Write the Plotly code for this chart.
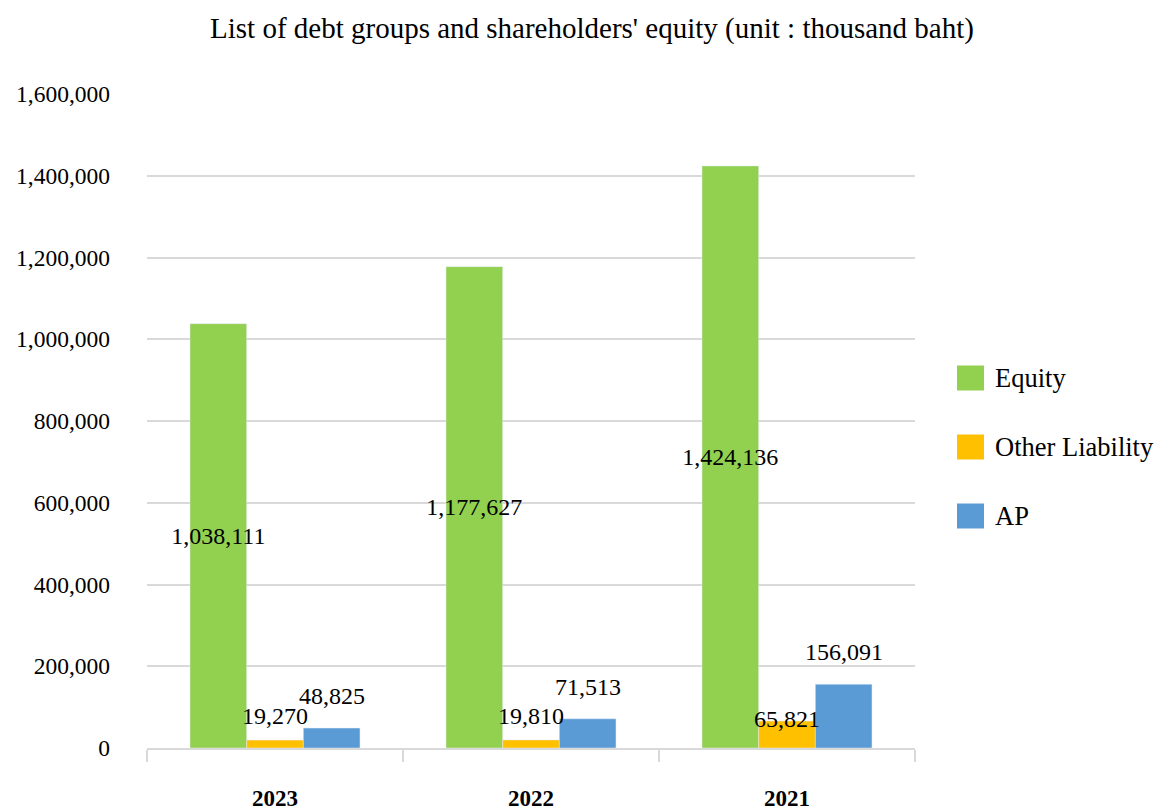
import plotly.graph_objects as go

years = ["2023", "2022", "2021"]
equity = [1038111, 1177627, 1424136]
other_liability = [19270, 19810, 65821]
ap = [48825, 71513, 156091]
y_ticks = [0, 200000, 400000, 600000, 800000, 1000000, 1200000, 1400000, 1600000]
series_names = ["Equity", "Other Liability", "AP"]

FONT = "Liberation Serif"
GREEN, ORANGE, BLUE = "#92D050", "#FFC000", "#5B9BD5"
COLORS = [GREEN, ORANGE, BLUE]

# page offset (browser body margin) compensation
OFF = 8
W, H = 1154, 802
PL, PR, PT, PB = 147, 915, 94, 748   # desired plot area in screen pixels

fig = go.Figure()
fig.add_trace(go.Bar(
    name=series_names[0], x=years, y=equity, marker_color=GREEN,
    text=[f"{v:,}" for v in equity], textposition="inside",
    insidetextanchor="middle", textangle=0, constraintext="none",
    textfont=dict(family=FONT, size=24, color="black"),
))
fig.add_trace(go.Bar(name=series_names[1], x=years, y=other_liability, marker_color=ORANGE))
fig.add_trace(go.Bar(name=series_names[2], x=years, y=ap, marker_color=BLUE))

# labels for small bars (manually offset as in source)
bar_w_px = 56.7
orange_shift = [24, 24, 2]
for i, yr in enumerate(years):
    fig.add_annotation(x=i, y=other_liability[i], xshift=0, yshift=orange_shift[i],
                       text=f"{other_liability[i]:,}", showarrow=False,
                       font=dict(family=FONT, size=24, color="black"))
    fig.add_annotation(x=i, y=ap[i], xshift=bar_w_px, yshift=32,
                       text=f"{ap[i]:,}", showarrow=False,
                       font=dict(family=FONT, size=24, color="black"))

# legend drawn like the source (large square swatches)
def px_x(px):
    return (px - PL) / (PR - PL)

def px_y(py):
    return (PB - py) / (PB - PT)

legend_centers = [378, 447, 516]
for name, col, cy in zip(series_names, COLORS, legend_centers):
    fig.add_shape(type="rect", xref="paper", yref="paper",
                  x0=px_x(957), x1=px_x(984), y0=px_y(cy + 12.5), y1=px_y(cy - 12.5),
                  fillcolor=col, line=dict(width=0))
    fig.add_annotation(xref="paper", yref="paper", x=px_x(993), y=px_y(cy),
                       xanchor="left", yanchor="middle", text=name, showarrow=False,
                       font=dict(family=FONT, size=26.5, color="black"))

fig.update_layout(
    width=W, height=H,
    margin=dict(l=PL - OFF, r=W + OFF - PR, t=PT - OFF, b=H + OFF - PB),
    paper_bgcolor="white", plot_bgcolor="white",
    barmode="group", bargap=0.336, bargroupgap=0,
    title=dict(text="List of debt groups and shareholders' equity (unit : thousand baht)",
               x=(592 - OFF) / W, xanchor="center", y=1 - (28 - OFF) / H, yanchor="middle",
               font=dict(family=FONT, size=29, color="black")),
    font=dict(family=FONT, color="black"),
    showlegend=False,
)
fig.update_xaxes(
    type="category", showline=True, linecolor="#D9D9D9", linewidth=1.5,
    ticks="outside", tickson="boundaries", ticklen=12, tickcolor="#D9D9D9",
    tickwidth=1.5, showgrid=False, automargin=False, ticklabelstandoff=29,
    tickangle=0,
    tickfont=dict(family=FONT, size=23, color="black", weight="bold"),
)
fig.update_yaxes(
    range=[0, 1600000], tickvals=y_ticks, ticktext=[f"{v:,}" for v in y_ticks],
    showgrid=True, gridcolor="#D9D9D9", gridwidth=1.5, zeroline=False,
    showline=False, automargin=False, ticklabelstandoff=36,
    tickfont=dict(family=FONT, size=23.5, color="black"),
)

fig.write_html("out.html")
